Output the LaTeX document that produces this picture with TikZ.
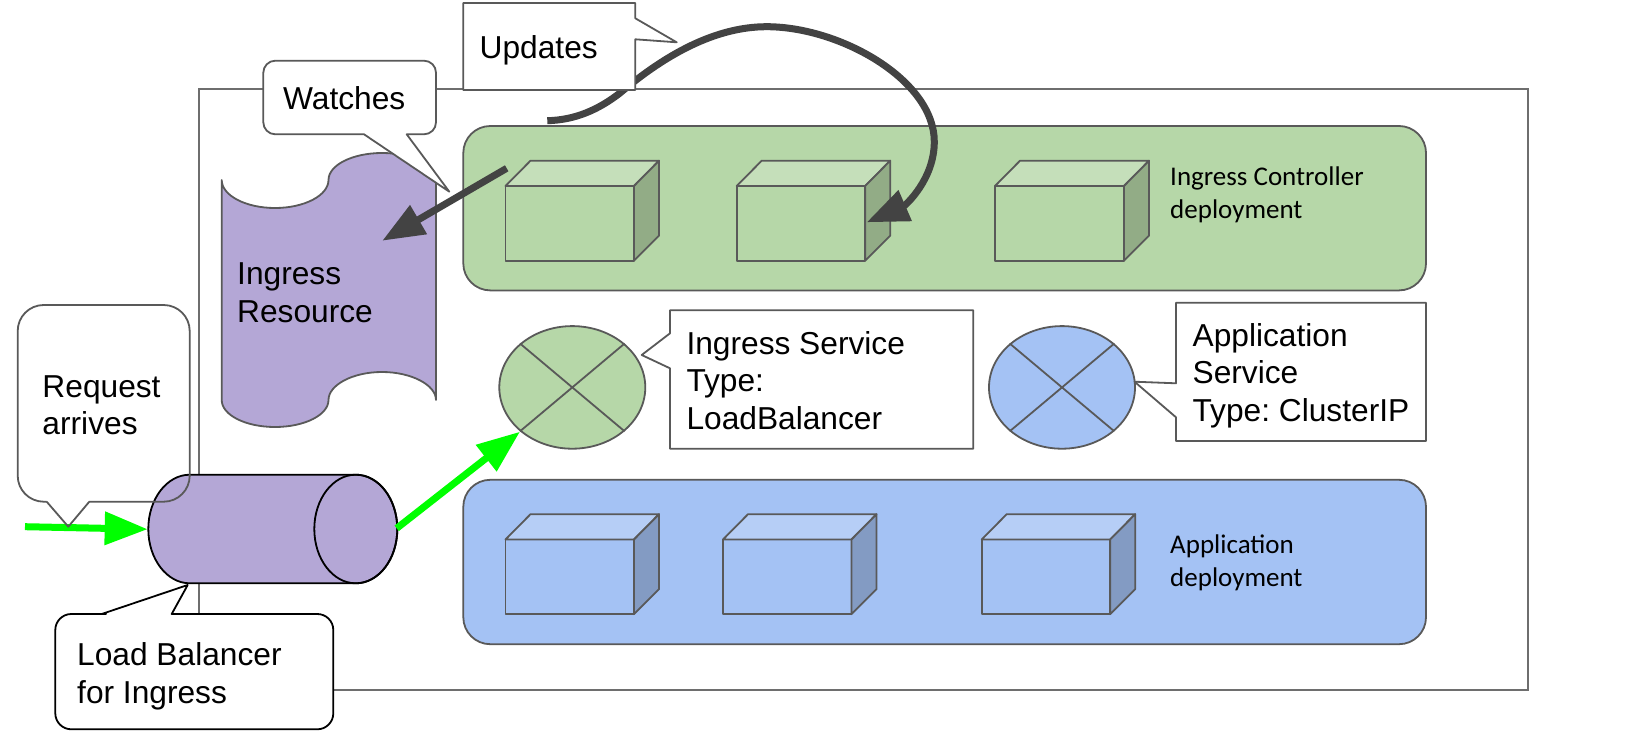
\documentclass[tikz,border=0pt]{standalone}
\usepackage{fontspec}
\setmainfont{Liberation Sans}
\newfontfamily\smallfam{Carlito}
\usetikzlibrary{arrows.meta,shapes.geometric}
\frenchspacing
\definecolor{edgegray}{HTML}{595959}
\definecolor{rimgray}{HTML}{6E6E6E}
\definecolor{arrowdark}{HTML}{434343}
\definecolor{purplefill}{HTML}{B4A7D6}
\definecolor{greenfill}{HTML}{B6D7A8}
\definecolor{greentop}{HTML}{C5DFBA}
\definecolor{greenside}{HTML}{92AC86}
\definecolor{bluefill}{HTML}{A4C2F4}
\definecolor{bluetop}{HTML}{B6CEF6}
\definecolor{blueside}{HTML}{839BC3}
\definecolor{brightgreen}{HTML}{00FF00}
\tikzset{
  x=1bp,y=-1bp,
  outline/.style={draw=edgegray,line width=1.8bp,line join=round},
  panelbox/.style={outline,rounded corners=27bp,minimum width=962.7bp,minimum height=164.4bp,inner sep=0pt},
  svcnode/.style={outline,ellipse,minimum width=146bp,minimum height=122.6bp,inner sep=0pt},
  bubble/.style={outline,fill=white},
  lbl/.style={anchor=base west,inner sep=0pt,font=\fontsize{31.7bp}{37.5bp}\selectfont\frenchspacing,text=black},
  smalllbl/.style={anchor=base west,inner sep=0pt,font=\smallfam\fontsize{27bp}{32.5bp}\selectfont\frenchspacing,text=black},
  darkarrow/.style={draw=arrowdark,line width=7bp,-{Triangle[length=42bp,width=32bp]},color=arrowdark},
  greenarrow/.style={draw=brightgreen,line width=7bp,-{Triangle[length=43bp,width=32bp]},color=brightgreen},
}
% #1 front-left x, #2 top y, #3 width, #4 face, #5 top, #6 side
\newcommand{\cubeshape}[6]{%
  \draw[outline,fill=#4] (#1,#2+25.3) rectangle (#1+#3,#2+100);
  \draw[outline,fill=#5] (#1,#2+25.3) -- (#1+25,#2) -- (#1+#3+25,#2) -- (#1+#3,#2+25.3) -- cycle;
  \draw[outline,fill=#6] (#1+#3,#2+25.3) -- (#1+#3+25,#2) -- (#1+#3+25,#2+75) -- (#1+#3,#2+100) -- cycle;
}
\newcommand{\stacklines}[1]{\vbox{\halign{##\hfil\cr#1\cr}}}
\begin{document}
\begin{tikzpicture}
\useasboundingbox (0,0) rectangle (1632,750);
\fill[white] (0,0) rectangle (1632,750);
% outer frame
\node[draw=rimgray,line width=1.8bp,minimum width=1328.4bp,minimum height=600.7bp,inner sep=0pt] (frame) at (863.5,389.6) {};
% panels
\node[panelbox,fill=greenfill] (ctrlpanel) at (944.65,208.2) {};
\node[panelbox,fill=bluefill] (apppanel) at (944.65,562) {};
% cubes
\cubeshape{505.5}{160.7}{128.5}{greenfill}{greentop}{greenside}
\cubeshape{736.7}{160.7}{128.5}{greenfill}{greentop}{greenside}
\cubeshape{995}{160.7}{129}{greenfill}{greentop}{greenside}
\cubeshape{505.5}{514.2}{128.5}{bluefill}{bluetop}{blueside}
\cubeshape{723}{514.2}{128.5}{bluefill}{bluetop}{blueside}
\cubeshape{981.7}{514.2}{128.5}{bluefill}{bluetop}{blueside}
% ingress resource (punched tape)
\draw[outline,fill=purplefill] (221.7,180)
  .. controls (221.7,195.4) and (245.6,208) .. (275,208)
  .. controls (304.4,208) and (328.5,195.4) .. (328.5,180)
  .. controls (328.5,165) and (352.6,153) .. (382,153)
  .. controls (411.4,153) and (436,165) .. (436,180)
  -- (436,400)
  .. controls (436,385) and (411.4,372) .. (382,372)
  .. controls (352.6,372) and (328.5,385) .. (328.5,400)
  .. controls (328.5,415) and (304.4,427) .. (275,427)
  .. controls (245.6,427) and (221.7,415) .. (221.7,400)
  -- cycle;
% services
\node[svcnode,fill=greenfill] (ingsvc) at (572.3,387.4) {};
\draw[outline] (ingsvc.40) -- (ingsvc.220) (ingsvc.140) -- (ingsvc.320);
\node[svcnode,fill=bluefill] (appsvc) at (1062,387.4) {};
\draw[outline] (appsvc.40) -- (appsvc.220) (appsvc.140) -- (appsvc.320);
% load balancer cylinder
\draw[draw=black,line width=1.8bp,fill=purplefill] (189.8,474.7) -- (355.8,474.7)
  arc[start angle=90,end angle=-90,x radius=41.5bp,y radius=54.3bp] -- (189.8,583.3)
  arc[start angle=270,end angle=90,x radius=41.5bp,y radius=54.3bp] -- cycle;
\draw[draw=black,line width=1.8bp] (355.8,529) ellipse[x radius=41.5bp,y radius=54.3bp];
% coordinates for connectors
\coordinate (reqstart) at (25,526.7);
\coordinate (lbleft) at (147.7,529.2);
\coordinate (lbright) at (396.7,528.3);
\coordinate (svctip) at (520,431.7);
\coordinate (watchfrom) at (506.7,168.3);
\coordinate (watchto) at (382.3,240.7);
\coordinate (updfrom) at (547.3,120.7);
\coordinate (updto) at (866.7,222.3);
% green connectors
\draw[greenarrow] (reqstart) -- (lbleft);
\draw[greenarrow] (lbright) -- (svctip);
% updates curve (runs behind the Updates callout)
\draw[darkarrow] (updfrom)
  .. controls (575,120) and (598,110) .. (620,93)
  .. controls (665,55) and (715,26.7) .. (766.7,26.7)
  .. controls (840,26.7) and (934.3,80) .. (934.3,141.7)
  .. controls (934.3,180) and (904.7,205.8) .. (updto);
% callouts
\draw[bubble] (635.3,18.3) -- (676.7,42.3) -- (635.3,39.3) -- (635.3,90) -- (463.3,90) -- (463.3,3) -- (635.3,3) -- cycle;
\draw[bubble] (364,134.3) -- (449.3,191.7) -- (406.7,134.3) -- (420,134.3) [rounded corners=12bp] -- (436,134.3) -- (436,60.7) -- (263.3,60.7) -- (263.3,134.3) -- (300,134.3) [sharp corners] -- cycle;
\draw[bubble] (670,333.3) -- (641.7,355) -- (670,368.3) -- (670,448.7) -- (973.3,448.7) -- (973.3,310.3) -- (670,310.3) -- cycle;
\draw[bubble] (1176,383.3) -- (1134.5,381.7) -- (1176,417.3) -- (1176,441) -- (1426,441) -- (1426,302.7) -- (1176,302.7) -- cycle;
\draw[outline] (46.7,501.7) -- (68.3,526.7) -- (89.3,501.7) -- (120,501.7) [rounded corners=26bp] -- (189.7,501.7) -- (189.7,305) -- (17.7,305) -- (17.7,501.7) -- (46.7,501.7);
\draw[draw=black,fill=white,line width=1.8bp,line join=round] (101.7,614) -- (187.7,585) -- (171.7,614) -- (250,614) [rounded corners=16bp] -- (333.3,614) -- (333.3,729.3) -- (55.3,729.3) -- (55.3,614) -- (90,614) [sharp corners] -- cycle;
% straight dark connector
\draw[darkarrow] (watchfrom) -- (watchto);
% labels
\node[lbl] (updlbl) at (479.5,59) {Updates};
\node[lbl] (watchlbl) at (283,109.5) {Watches};
\node[lbl] (inglbl) at (237,322) {\stacklines{Ingress\cr Resource}};
\node[lbl] (reqlbl) at (42.3,434.8) {\stacklines{Request\cr arrives}};
\node[lbl] (lblbl) at (77,703.2) {\stacklines{Load Balancer\cr for Ingress}};
\node[lbl] (isvclbl) at (686.3,429.2) {\stacklines{Ingress Service\cr Type:\cr LoadBalancer}};
\node[lbl] (asvclbl) at (1192.4,421) {\stacklines{Application\cr Service\cr Type: ClusterIP}};
\node[smalllbl] (ctrllbl) at (1170,218.3) {\stacklines{Ingress Controller\cr deployment}};
\node[smalllbl] (applbl) at (1170,586) {\stacklines{Application\cr deployment}};
\end{tikzpicture}
\end{document}
